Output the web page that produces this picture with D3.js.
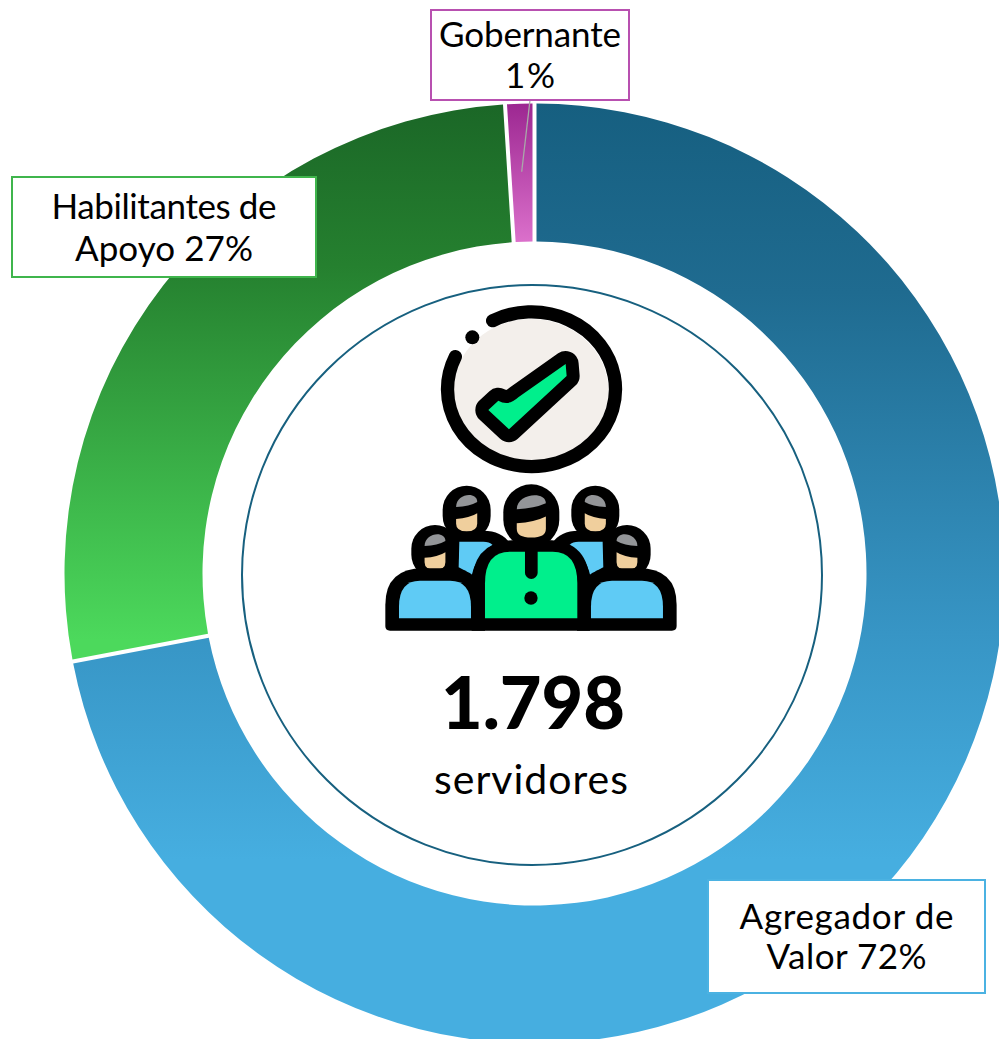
<!DOCTYPE html>
<html>
<head>
<meta charset="utf-8">
<script src="https://cdn.jsdelivr.net/npm/d3@7"></script>
<style>
  html, body { margin: 0; padding: 0; background: #fff; }
  svg { display: block; }
  text { font-family: Lato, "Noto Sans", sans-serif; fill: #000; text-anchor: middle; }
</style>
</head>
<body>
<div id="chart"></div>
<script>
// values
var categories = ["Agregador de Valor", "Habilitantes de Apoyo", "Gobernante"];
var shares = [72, 27, 1];
var labelLines = [["Agregador de", "Valor 72%"], ["Habilitantes de", "Apoyo 27%"], ["Gobernante", "1%"]];
var total = "1.798";
var totalLabel = "servidores";

var gradStops = [
    [[0, "#165f80"], [0.25, "#1f6b90"], [0.7, "#3795c5"], [1, "#46aee0"]],
    [[0, "#1b6727"], [0.3, "#25802f"], [1, "#4cd95c"]],
    [[0, "#9c2791"], [1, "#db70cb"]]
];
var gradEnds = [[103, 860], [105, 640], [103, 242]];
var borderColors = ["#4bb2e2", "#3fb54c", "#b850b0"];
var labelBoxes = [
    { x: 708, y: 880, w: 277, h: 113, lineY: [929, 969], lineW: [214, 160] },
    { x: 12, y: 177, w: 304, h: 100, lineY: [219, 261], lineW: [225, 178] },
    { x: 431, y: 10, w: 198, h: 90, lineY: [47, 88], lineW: [182, 50] }
];

var width = 999, height = 1039;
var cx = 534.5, cy = 573.5;

var svg = d3.select("#chart").append("svg")
    .attr("width", width).attr("height", height);
var defs = svg.append("defs");

gradStops.forEach(function(stops, i) {
    // the slices sit in a translated group, so the gradient is relative to cy
    var g = defs.append("linearGradient").attr("id", "seg" + i)
        .attr("gradientUnits", "userSpaceOnUse")
        .attr("x1", 0).attr("x2", 0)
        .attr("y1", gradEnds[i][0] - cy).attr("y2", gradEnds[i][1] - cy);
    stops.forEach(function(s) {
        g.append("stop").attr("offset", s[0]).attr("stop-color", s[1]);
    });
});

var pie = d3.pie().sort(null).value(function(d) { return d; });
var arc = d3.arc().outerRadius(470).innerRadius(332).padAngle(0.0085).padRadius(470);

svg.append("g").attr("transform", "translate(" + cx + "," + cy + ")")
    .selectAll("path").data(pie(shares)).enter().append("path")
    .attr("d", arc)
    .attr("fill", function(d, i) { return "url(#seg" + i + ")"; });

// inner ring
svg.append("circle").attr("cx", 532).attr("cy", 575).attr("r", 290)
    .attr("fill", "#fff").attr("stroke", "#17607f").attr("stroke-width", 2);

// leader line of the small slice
svg.append("line").attr("x1", 530).attr("y1", 100).attr("x2", 521.7).attr("y2", 171.7)
    .attr("stroke", "#a9a9a9").attr("stroke-width", 1.3);

// labels
labelBoxes.forEach(function(b, i) {
    svg.append("rect").attr("x", b.x).attr("y", b.y).attr("width", b.w).attr("height", b.h)
        .attr("fill", "#fff").attr("stroke", borderColors[i]).attr("stroke-width", 2);
    labelLines[i].forEach(function(t, j) {
        svg.append("text").attr("x", b.x + b.w / 2).attr("y", b.lineY[j])
            .attr("font-size", 35)
            .attr("textLength", b.lineW[j]).attr("lengthAdjust", "spacing")
            .text(t);
    });
});

svg.append("text").attr("x", 533).attr("y", 729)
    .attr("font-size", 72).attr("font-weight", 900).text(total);
svg.append("text").attr("x", 531).attr("y", 794)
    .attr("font-size", 41).attr("textLength", 194).attr("lengthAdjust", "spacing")
    .text(totalLabel);

// icon, drawn in its own 3x grid
var icon = svg.append("g").attr("transform", "translate(370,290) scale(0.3333)");

function drawHead(g, x, y, w, h, inset) {
    g.append("rect").attr("x", x).attr("y", y).attr("width", w).attr("height", h)
        .attr("rx", w / 2).attr("fill", "#000");
    var l = x + w * inset, r = x + w * (1 - inset), m = x + w / 2;
    g.append("path").attr("fill", "#939598")
        .attr("d", "M" + l + "," + (y + h * 0.395) + "C" + l + "," + (y + h * 0.14) + " " + r + "," + (y + h * 0.1) + " " + r + "," + (y + h * 0.3)
            + "Q" + (m + w * 0.06) + "," + (y + h * 0.38) + " " + l + "," + (y + h * 0.395) + "Z");
    g.append("path").attr("fill", "#f0cf9d")
        .attr("d", "M" + l + "," + (y + h * 0.615) + "Q" + (m + w * 0.06) + "," + (y + h * 0.6) + " " + r + "," + (y + h * 0.51)
            + "V" + (y + h * 0.7) + "Q" + r + "," + (y + h * 0.84) + " " + m + "," + (y + h * 0.84)
            + "Q" + l + "," + (y + h * 0.84) + " " + l + "," + (y + h * 0.7) + "Z");
}

function drawSide(g) {
    // back person
    g.append("path").attr("fill", "#000")
        .attr("d", "M215,900V780Q215,722 280,722H340Q395,722 420,760L330,900Z");
    g.append("path").attr("fill", "#5fcbf5")
        .attr("d", "M268,755H340Q358,755 368,765Q320,795 305,857Q285,840 266,832Z");
    drawHead(g, 218, 587, 144, 163, 0.28);
    // front person
    drawHead(g, 124, 705, 142, 160, 0.28);
    g.append("path").attr("fill", "#000")
        .attr("d", "M46,1008V945Q46,835 160,835H235Q345,835 345,945V1022H60Q46,1022 46,1008Z");
    g.append("path").attr("fill", "#5fcbf5")
        .attr("d", "M87,985V950Q87,872 150,872H240Q303,872 303,950V985Z");
}

var left = icon.append("g");
drawSide(left);
var right = icon.append("g").attr("transform", "translate(966,0) scale(-1,1)");
drawSide(right);

// middle person
icon.append("path").attr("fill", "#000")
    .attr("d", "M305,1022V890Q305,750 440,750H530Q660,750 660,890V1022Z");
icon.append("path").attr("fill", "#00ef8c")
    .attr("d", "M345,985V880Q345,785 420,785H548Q622,785 622,880V985Z");
drawHead(icon, 400, 583, 168, 190, 0.24);
icon.append("line").attr("x1", 484).attr("x2", 484).attr("y1", 770).attr("y2", 848)
    .attr("stroke", "#000").attr("stroke-width", 38).attr("stroke-linecap", "round");
icon.append("circle").attr("cx", 483).attr("cy", 924).attr("r", 20).attr("fill", "#000");

// check badge
icon.append("ellipse").attr("cx", 483).attr("cy", 301).attr("rx", 232).attr("ry", 214).attr("fill", "#f3efeb");
icon.append("path").attr("fill", "none").attr("stroke", "#000").attr("stroke-width", 40)
    .attr("stroke-linecap", "round")
    .attr("d", "M368,92A252,232 0 1 1 256,200");
icon.append("circle").attr("cx", 307).attr("cy", 142).attr("r", 21).attr("fill", "#000");
var checkPath = "M587,222L590,258L417,418L355,360L385,332Q415,350 445,322Z";
icon.append("path").attr("d", checkPath).attr("fill", "#000")
    .attr("stroke", "#000").attr("stroke-width", 78).attr("stroke-linejoin", "round");
icon.append("path").attr("d", checkPath).attr("fill", "#00ef8c");
</script>
</body>
</html>
